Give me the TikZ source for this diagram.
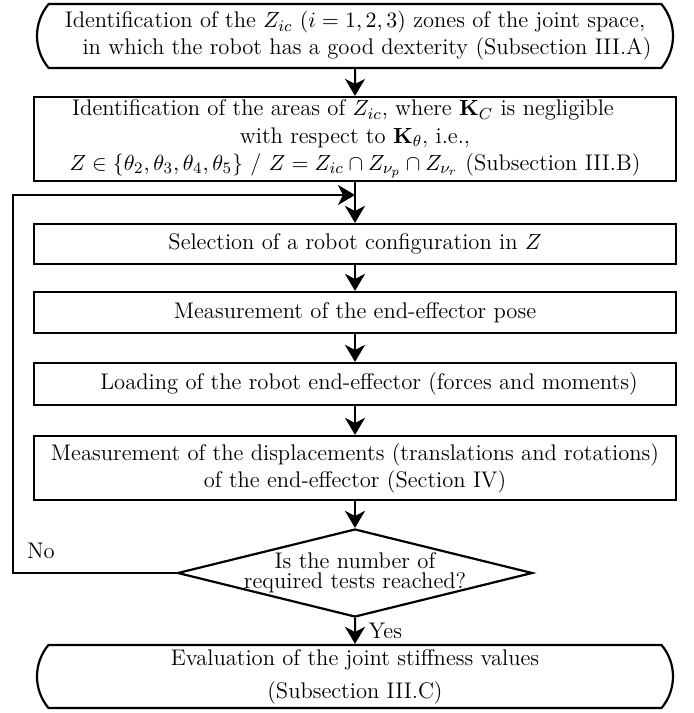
\documentclass[tikz,border=0pt]{standalone}
\usepackage{amsmath}
\usepackage{amssymb}
\usepackage{bm}
\usetikzlibrary{arrows.meta}
\usetikzlibrary{shapes.misc}
\usetikzlibrary{shapes.geometric}
\usetikzlibrary{calc}
\tikzset{
	txt/.style={font=\fontsize{11.3}{13.6}\selectfont},
	blockbox/.style={txt,draw,line width=1.1pt,rectangle,minimum width=321pt,align=center,inner sep=1.5pt},
	termbox/.style={txt,draw,line width=1.1pt,rounded rectangle,rounded rectangle arc length=80,minimum width=321pt,align=center,inner sep=1.5pt},
	testbox/.style={draw,line width=1.1pt,diamond,inner sep=0pt,minimum width=177.5pt,minimum height=44pt},
	flow/.style={-{Stealth[length=8.5pt,width=10pt,inset=2.5pt]},line width=1pt},
}

\begin{document}
\begin{tikzpicture}[x=0.5pt,y=-0.5pt]
	\useasboundingbox (0,0) rectangle (694,713);
	\node[termbox,minimum height=32pt] (zones) at (355,36) {Identification of the $Z_{ic}$ $(i=1,2,3)$ zones of the joint space,\\ \hspace*{12pt}in which the robot has a good dexterity (Subsection III.A)};
	\node[blockbox,minimum height=42pt] (areas) at (355,139) {Identification of the areas of $Z_{ic}$, where $\mathbf{K}_C$ is negligible\hspace*{12pt}\\ with respect to $\mathbf{K}_\theta$, i.e.,\\ $Z\in\{\theta_2,\theta_3,\theta_4,\theta_5\}$ / $Z=Z_{ic}\cap Z_{\nu_p}\cap Z_{\nu_r}$ (Subsection III.B)};
	\node[blockbox,minimum height=20pt] (select) at (355,244) {Selection of a robot configuration in $Z$};
	\node[blockbox,minimum height=20.5pt] (pose) at (355,312.5) {Measurement of the end-effector pose};
	\node[blockbox,minimum height=21pt] (load) at (355,384) {\hspace*{14pt}Loading of the robot end-effector (forces and moments)};
	\node[blockbox,minimum height=32pt] (displ) at (355,468) {Measurement of the displacements (translations and rotations)\\ of the end-effector (Section IV)};
	\node[testbox,label={[txt,align=center,font=\fontsize{11.3}{10}\selectfont]center:Is the number of\\required tests reached?}] (test) at (355,573) {};
	\node[termbox,minimum height=31.5pt] (stiff) at (355,676.5) {Evaluation of the joint stiffness values\\[3pt] (Subsection III.C)};
	\coordinate (join) at (355,195);
	\coordinate (back) at (13,573);
	\draw[flow] (zones) -- (areas);
	\draw[flow] (areas) -- (select);
	\draw[flow] (test.west) -- (back) |- (join);
	\draw[flow] (select) -- (pose);
	\draw[flow] (pose) -- (load);
	\draw[flow] (load) -- (displ);
	\draw[flow] (displ) -- (test);
	\draw[flow] (test) -- (stiff) node[txt,midway,right,xshift=3pt] {Yes};
	\node[txt,anchor=south west] (no) at (20,566) {No};
\end{tikzpicture}
\end{document}
